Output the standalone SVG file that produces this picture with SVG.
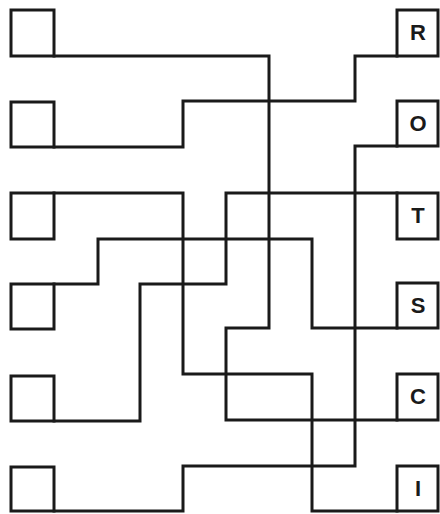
<svg xmlns="http://www.w3.org/2000/svg" width="440" height="514" viewBox="0 0 440 514">
<style>
.box{fill:#fff;stroke:#1a1a1a;stroke-width:3}
.ln{fill:none;stroke:#1a1a1a;stroke-width:3;stroke-linejoin:miter;stroke-linecap:square}
.lbl{font-family:"Liberation Sans",Arial,sans-serif;font-weight:bold;font-size:22px;fill:#1a1a1a;text-anchor:middle}
</style>
<rect width="440" height="514" fill="#fff"/>
<g id="connectors">
<polyline class="ln" points="54,56 269,56 269,328 226,328 226,420 397,420"/>
<polyline class="ln" points="54,147 183,147 183,101 355,101 355,56 397,56"/>
<polyline class="ln" points="54,193 183,193 183,374 312,374 312,511 397,511"/>
<polyline class="ln" points="54,284 98,284 98,239 312,239 312,328 397,328"/>
<polyline class="ln" points="54,421 140,421 140,284 226,284 226,193 397,193"/>
<polyline class="ln" points="54,511 183,511 183,466 355,466 355,146 397,146"/>
</g>
<g id="left1"><rect class="box" x="11" y="10" width="43" height="46"/></g>
<g id="left2"><rect class="box" x="11" y="102" width="43" height="45"/></g>
<g id="left3"><rect class="box" x="11" y="193" width="43" height="46"/></g>
<g id="left4"><rect class="box" x="11" y="284" width="43" height="45"/></g>
<g id="left5"><rect class="box" x="11" y="376" width="43" height="45"/></g>
<g id="left6"><rect class="box" x="11" y="467" width="43" height="44"/></g>
<g id="R"><rect class="box" x="397" y="10" width="41" height="46"/><text class="lbl" x="418" y="40">R</text></g>
<g id="O"><rect class="box" x="397" y="101" width="41" height="45"/><text class="lbl" x="418" y="131">O</text></g>
<g id="T"><rect class="box" x="397" y="193" width="41" height="46"/><text class="lbl" x="418" y="223">T</text></g>
<g id="S"><rect class="box" x="397" y="283" width="41" height="45"/><text class="lbl" x="418" y="313">S</text></g>
<g id="C"><rect class="box" x="397" y="374" width="41" height="46"/><text class="lbl" x="418" y="404">C</text></g>
<g id="I"><rect class="box" x="397" y="466" width="41" height="45"/><text class="lbl" x="418" y="496">I</text></g>
</svg>
